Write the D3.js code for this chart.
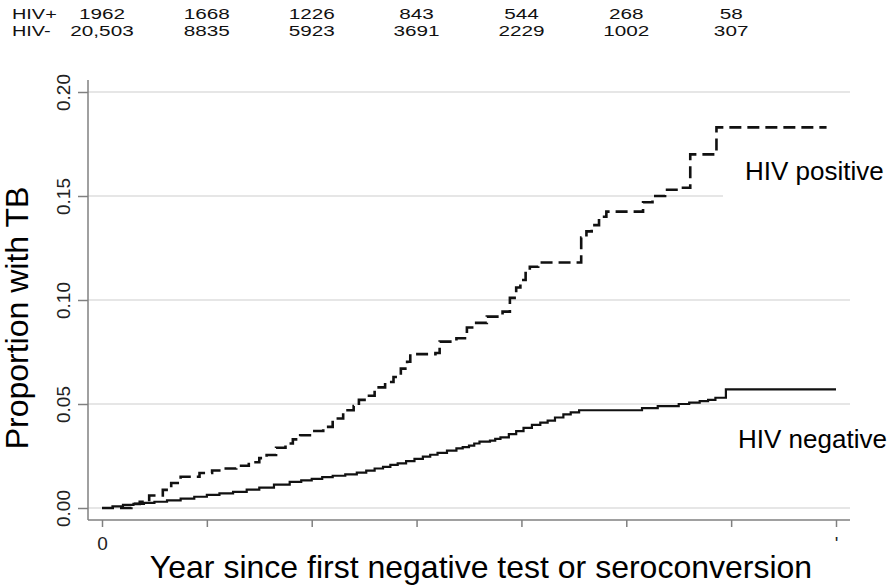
<!DOCTYPE html>
<html>
<head>
<meta charset="utf-8">
<script src="https://cdn.jsdelivr.net/npm/d3@7"></script>
<style>
  body { margin: 0; background: #fff; }
  svg { display: block; font-family: "Liberation Sans", Arial, sans-serif; }
</style>
</head>
<body>
<svg id="chart" width="891" height="585"></svg>
<script>
// numbers at risk, one column per year
const riskYears = [0, 1, 2, 3, 4, 5, 6];
const hivPosRisk = ["1962", "1668", "1226", "843", "544", "268", "58"];
const hivNegRisk = ["20,503", "8835", "5923", "3691", "2229", "1002", "307"];

const yTicks = [0, 0.05, 0.10, 0.15, 0.20];
const xTicks = [0, 1, 2, 3, 4, 5, 6, 7];
const xTickLabels = ["0", "", "", "", "", "", "", "'"];

// cumulative proportion with TB (year, proportion)
const hivPositive = [
    [0, 0], [0.22, 0], [0.28, 0.002], [0.36, 0.003], [0.45, 0.006], [0.58, 0.0087],
    [0.66, 0.012], [0.75, 0.015], [0.93, 0.0168], [1.05, 0.018], [1.15, 0.019],
    [1.28, 0.0203], [1.4, 0.022], [1.5, 0.024], [1.57, 0.0255], [1.66, 0.029],
    [1.75, 0.031], [1.82, 0.033], [1.89, 0.035], [2.0, 0.037], [2.11, 0.039],
    [2.2, 0.043], [2.3, 0.047], [2.4, 0.049], [2.45, 0.052], [2.52, 0.054],
    [2.6, 0.058], [2.7, 0.0606], [2.78, 0.063], [2.85, 0.067], [2.91, 0.0703],
    [2.94, 0.074], [3.18, 0.0745], [3.22, 0.080], [3.38, 0.0816], [3.48, 0.0868],
    [3.55, 0.089], [3.67, 0.092], [3.82, 0.0944], [3.89, 0.101], [3.95, 0.106],
    [3.99, 0.1096], [4.04, 0.113], [4.08, 0.116], [4.16, 0.118], [4.55, 0.118],
    [4.57, 0.130], [4.62, 0.133], [4.67, 0.136], [4.74, 0.140], [4.81, 0.1425],
    [5.15, 0.1425], [5.16, 0.147], [5.25, 0.150], [5.37, 0.153], [5.5, 0.154],
    [5.61, 0.170], [5.86, 0.183], [6.91, 0.183]
];
const hivNegative = [
    [0, 0], [0.1, 0.0008], [0.2, 0.0015], [0.3, 0.002], [0.4, 0.0025], [0.5, 0.003],
    [0.62, 0.0037], [0.75, 0.0045], [0.88, 0.0054], [1.0, 0.0063], [1.12, 0.007],
    [1.25, 0.0078], [1.38, 0.0088], [1.5, 0.0098], [1.64, 0.0112], [1.79, 0.0126],
    [1.9, 0.0133], [2.0, 0.014], [2.1, 0.0148], [2.2, 0.0155], [2.32, 0.0162],
    [2.43, 0.017], [2.52, 0.018], [2.6, 0.019], [2.68, 0.0198], [2.75, 0.0207],
    [2.82, 0.0215], [2.9, 0.0225], [2.98, 0.0236], [3.06, 0.0247], [3.13, 0.0256],
    [3.2, 0.0265], [3.29, 0.0276], [3.38, 0.0287], [3.44, 0.0293], [3.5, 0.030],
    [3.55, 0.031], [3.6, 0.0319], [3.7, 0.0324], [3.75, 0.0332], [3.8, 0.034],
    [3.88, 0.0355], [3.95, 0.037], [4.02, 0.0385], [4.1, 0.040], [4.18, 0.041],
    [4.25, 0.042], [4.32, 0.0435], [4.4, 0.045], [4.47, 0.046], [4.55, 0.047],
    [5.0, 0.047], [5.15, 0.048], [5.3, 0.049], [5.5, 0.050], [5.6, 0.0507],
    [5.7, 0.0514], [5.78, 0.052], [5.85, 0.053], [5.95, 0.057], [7.0, 0.057]
];

const svg = d3.select("#chart");

const x = d3.scaleLinear().domain([0, 7]).range([102, 836]);
const y = d3.scaleLinear().domain([0, 0.2]).range([508, 92]);

const axisLeftX = 88;
const axisBottomY = 520;
const plotRight = 850;

// gridlines
svg.append("g")
    .selectAll("line")
    .data(yTicks)
    .join("line")
    .attr("x1", axisLeftX)
    .attr("x2", d => d === 0.15 ? 723 : plotRight)
    .attr("y1", d => y(d))
    .attr("y2", d => y(d))
    .attr("stroke", "#dedede")
    .attr("stroke-width", 1.5);

// y axis
const yAxis = svg.append("g")
    .attr("transform", `translate(${axisLeftX},0)`)
    .call(d3.axisLeft(y).tickValues(yTicks).tickFormat(d3.format(".2f")).tickSize(10).tickSizeOuter(0));
yAxis.select(".domain").attr("d", `M0,80V${axisBottomY}`);
yAxis.selectAll("line").attr("stroke", "#808080").attr("stroke-width", 1.5);
yAxis.select(".domain").attr("stroke", "#808080").attr("stroke-width", 1.5);
yAxis.selectAll("text")
    .attr("transform", "rotate(-90)")
    .attr("x", 0)
    .attr("y", -18)
    .attr("dy", 0)
    .attr("text-anchor", "middle")
    .attr("font-size", 19)
    .attr("fill", "#222")
    .attr("font-family", "Liberation Sans, Arial, sans-serif");

// x axis
const xAxis = svg.append("g")
    .attr("transform", `translate(0,${axisBottomY})`)
    .call(d3.axisBottom(x).tickValues(xTicks).tickFormat((d, i) => xTickLabels[i]).tickSize(7).tickSizeOuter(0));
xAxis.select(".domain").attr("d", `M${axisLeftX},0H${plotRight}`);
xAxis.selectAll("line").attr("stroke", "#808080").attr("stroke-width", 1.5);
xAxis.select(".domain").attr("stroke", "#808080").attr("stroke-width", 1.5);
xAxis.selectAll("text")
    .attr("y", 30)
    .attr("dy", 0)
    .attr("font-size", 19)
    .attr("fill", "#222")
    .attr("font-family", "Liberation Sans, Arial, sans-serif");

// curves
const line = d3.line()
    .x(d => x(d[0]))
    .y(d => y(d[1]))
    .curve(d3.curveStepAfter);

svg.append("path")
    .datum(hivNegative)
    .attr("fill", "none")
    .attr("stroke", "#111")
    .attr("stroke-width", 2.2)
    .attr("d", line);

svg.append("path")
    .datum(hivPositive)
    .attr("fill", "none")
    .attr("stroke", "#111")
    .attr("stroke-width", 2.6)
    .attr("stroke-dasharray", "12,6")
    .attr("d", line);

// curve labels
svg.append("text")
    .attr("x", 745).attr("y", 180)
    .attr("font-size", 26)
    .text("HIV positive");
svg.append("text")
    .attr("x", 738).attr("y", 448)
    .attr("font-size", 26)
    .text("HIV negative");

// axis titles
svg.append("text")
    .attr("transform", "translate(28,318) rotate(-90)")
    .attr("text-anchor", "middle")
    .attr("font-size", 32)
    .text("Proportion with TB");
svg.append("text")
    .attr("x", 481).attr("y", 578)
    .attr("text-anchor", "middle")
    .attr("font-size", 32)
    .text("Year since first negative test or seroconversion");

// number at risk table
const risk = svg.append("g").attr("font-size", 14).attr("fill", "#111");
[["HIV+", hivPosRisk, 19], ["HIV-", hivNegRisk, 36]].forEach(([name, values, base]) => {
    risk.append("text")
        .attr("transform", `translate(12,${base}) scale(1.42,1)`)
        .text(name);
    risk.selectAll(null)
        .data(values)
        .join("text")
        .attr("transform", (d, i) => `translate(${x(riskYears[i])},${base}) scale(1.48,1)`)
        .attr("text-anchor", "middle")
        .text(d => d);
});
</script>
</body>
</html>
